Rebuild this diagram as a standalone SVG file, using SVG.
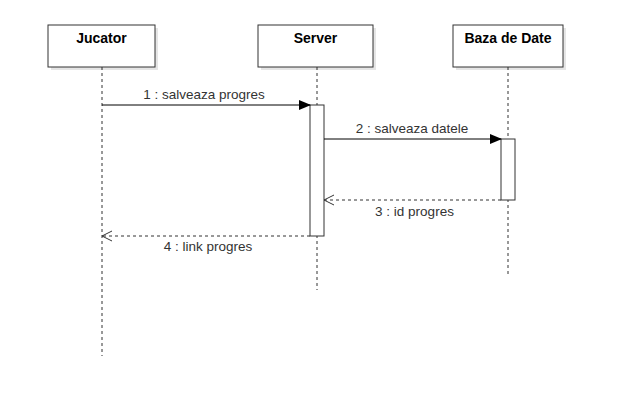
<svg xmlns="http://www.w3.org/2000/svg" width="618" height="400" viewBox="0 0 618 400">
<style>
.box{fill:#fff;stroke:#333;stroke-width:1}
.shadow{fill:#000;opacity:0.1}
.title{font-family:"Liberation Sans",Arial,sans-serif;font-size:14px;font-weight:bold;fill:#000;text-anchor:middle}
.life{stroke:#333;stroke-width:1;stroke-dasharray:3 3;fill:none}
.act{fill:#fff;stroke:#333;stroke-width:1}
.msg{stroke:#000;stroke-width:1;fill:none}
.ret{stroke:#333;stroke-width:1;stroke-dasharray:3 3;fill:none}
.lbl{font-family:"Liberation Sans",Arial,sans-serif;font-size:13.5px;fill:#333;text-anchor:middle}
</style>
<defs>
<marker id="filled" markerWidth="12" markerHeight="10" refX="11" refY="5" orient="auto" markerUnits="userSpaceOnUse">
<path d="M0,0 L12,5 L0,10 Z" fill="#000"/>
</marker>
<marker id="open" markerWidth="12" markerHeight="12" refX="11" refY="6" orient="auto" markerUnits="userSpaceOnUse">
<path d="M1,1 L11,6 L1,11" fill="none" stroke="#333" stroke-width="1"/>
</marker>
</defs>
<rect width="618" height="400" fill="#fff"/>
<g id="lifelines">
<line class="life" x1="102" y1="67" x2="102" y2="356"/>
<line class="life" x1="317" y1="67" x2="317" y2="290"/>
<line class="life" x1="508" y1="67" x2="508" y2="276"/>
</g>
<g id="Jucator">
<rect class="shadow" x="51" y="28" width="107" height="42"/>
<rect class="box" x="48" y="25" width="107" height="42"/>
<text class="title" x="101.5" y="43">Jucator</text>
</g>
<g id="Server">
<rect class="shadow" x="261" y="28" width="115" height="42"/>
<rect class="box" x="258" y="25" width="115" height="42"/>
<text class="title" x="315.5" y="43">Server</text>
</g>
<g id="BazaDeDate">
<rect class="shadow" x="456" y="28" width="110" height="42"/>
<rect class="box" x="453" y="25" width="110" height="42"/>
<text class="title" x="508" y="43">Baza de Date</text>
</g>
<g id="activations">
<rect class="act" x="310" y="105" width="14" height="131"/>
<rect class="act" x="501" y="139" width="14" height="61"/>
</g>
<g id="connectors">
<line class="msg" x1="102" y1="105" x2="310" y2="105" marker-end="url(#filled)"/>
<text class="lbl" x="204" y="99">1 : salveaza progres</text>
<line class="msg" x1="324" y1="139" x2="501" y2="139" marker-end="url(#filled)"/>
<text class="lbl" x="412" y="133">2 : salveaza datele</text>
<line class="ret" x1="501" y1="200" x2="324" y2="200" marker-end="url(#open)"/>
<text class="lbl" x="414.5" y="216">3 : id progres</text>
<line class="ret" x1="310" y1="236" x2="102" y2="236" marker-end="url(#open)"/>
<text class="lbl" x="208" y="251">4 : link progres</text>
</g>
</svg>
